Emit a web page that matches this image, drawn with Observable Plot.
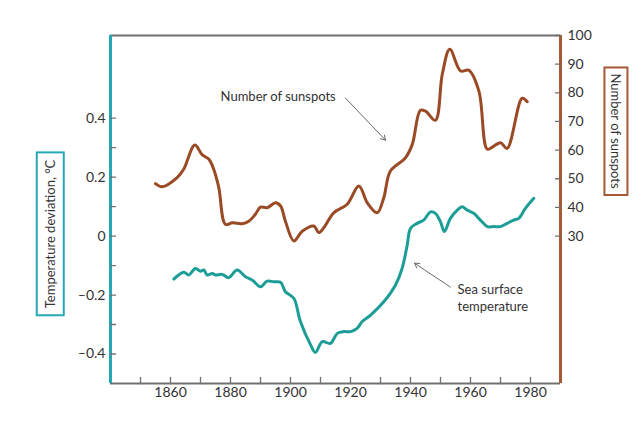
<!DOCTYPE html>
<html><head><meta charset="utf-8">
<script src="https://cdn.jsdelivr.net/npm/d3@7"></script>
<script src="https://cdn.jsdelivr.net/npm/@observablehq/plot@0.6"></script>
<style>
html,body{margin:0;padding:0;background:#fff;}
#chart svg{display:block;background:linear-gradient(#f4f7f6,#f4f7f6) no-repeat 7px 7px / 629px 407px;}
</style></head><body><div id="chart"></div>
<script>
// ---- data ----
const sunspotYears = [1855.0,1857.2,1862.2,1864.4,1868.1,1870.6,1872.8,1874.4,1876.1,1878.3,1880.6,1883.9,1886.1,1888.3,1890.0,1892.2,1895.0,1896.7,1898.3,1901.1,1903.9,1907.8,1909.4,1911.1,1914.4,1918.9,1922.8,1925.6,1928.9,1931.1,1933.3,1938.3,1940.6,1943.3,1945.0,1948.3,1950.6,1953.1,1956.7,1959.4,1962.8,1965.6,1967.8,1970.0,1972.2,1977.2,1978.9];
const sunspotValues = [48.3,47.2,50.4,53.3,61.8,58.3,56.8,53.3,46.9,34.1,34.6,34.3,35.2,37.6,40.1,39.9,41.6,40.5,35.2,28.3,31.7,33.5,31.2,32.9,38.1,41.1,47.5,41.6,38.1,43.4,52.7,57.3,62.0,73.9,73.6,70.4,86.5,95.2,87.6,87.9,80.6,60.3,61.4,62.6,60.6,78.1,76.9];
const tempYears = [1861.1,1864.4,1866.1,1868.3,1870.0,1871.1,1872.2,1873.9,1875.0,1877.2,1879.4,1882.2,1885.0,1887.2,1890.0,1892.2,1894.4,1896.7,1898.3,1901.1,1903.3,1906.7,1908.3,1910.6,1913.3,1915.6,1917.8,1920.0,1922.2,1923.9,1926.7,1931.1,1935.0,1937.2,1938.9,1940.0,1942.2,1944.4,1946.7,1948.3,1950.0,1951.3,1953.3,1955.6,1957.2,1958.9,1961.1,1963.3,1965.6,1967.8,1970.0,1972.2,1974.4,1976.1,1978.3,1981.1];
const tempValues = [-0.146,-0.123,-0.132,-0.110,-0.119,-0.115,-0.132,-0.127,-0.132,-0.130,-0.141,-0.115,-0.138,-0.149,-0.172,-0.153,-0.155,-0.157,-0.189,-0.211,-0.29,-0.369,-0.395,-0.358,-0.364,-0.330,-0.324,-0.324,-0.313,-0.290,-0.268,-0.223,-0.166,-0.110,-0.031,0.026,0.043,0.054,0.082,0.077,0.048,0.015,0.060,0.088,0.099,0.088,0.077,0.054,0.032,0.032,0.032,0.043,0.054,0.060,0.094,0.128];

const yearTickLabels = [1860,1880,1900,1920,1940,1960,1980];
const yearTicks = [1850,1860,1870,1880,1890,1900,1910,1920,1930,1940,1950,1960,1970,1980];
const tempTickLabels = [-0.4,-0.2,0,0.2,0.4];
const tempTicks = [-0.4,-0.3,-0.2,-0.1,0,0.1,0.2,0.3,0.4];
const sunspotTicks = [30,40,50,60,70,80,90,100];

const titles = [
  {year: 1820.2, t: 0.007, text: "Temperature deviation, °C", rotate: -90},
  {year: 2008.2, t: 0.356, text: "Number of sunspots", rotate: 90}
];
const notes = [
  {year: 1876.7, t: 0.476, text: "Number of sunspots"},
  {year: 1955.7, t: -0.208, text: "Sea surface\ntemperature"}
];
const pointers = [
  {x1: 1918.3, y1: 0.468, x2: 1931.7, y2: 0.325},
  {x1: 1953.3, y1: -0.173, x2: 1941.3, y2: -0.092}
];

// ---- scales ----
const xDomain = [1840, 1990];
const yDomain = [-0.5, 0.68];
// right axis (sunspots) mapped onto left-axis units: 30 -> 0, 100 -> 0.68
const toT = v => (v - 30) * 0.68 / 70;
const fromT = t => t * 70 / 0.68 + 30;

const sunspots = sunspotYears.map((y, i) => ({year: y, t: toT(sunspotValues[i])}));
const temps = tempYears.map((y, i) => ({year: y, t: tempValues[i]}));

const CYAN = "#25a8b6", TEAL = "#1c9e96", BROWN = "#9a4a24", BROWN_AX = "#a65a33", GREY = "#707070", INK = "#333";
const tickShape = {draw(context, l) { context.moveTo(0, 0); context.lineTo(0, -l); }};
const fmtT = d => d === 0 ? "0" : (d < 0 ? "–" : "") + Math.abs(d).toFixed(1);

const plot = Plot.plot({
  width: 643, height: 421,
  marginLeft: 110, marginRight: 83, marginTop: 35, marginBottom: 38,
  style: {fontFamily: "Lato, sans-serif", background: "transparent", overflow: "visible"},
  x: {domain: xDomain},
  y: {domain: yDomain},
  marks: [
    // frame
    Plot.ruleY([yDomain[1]], {stroke: GREY, strokeWidth: 2}),
    Plot.ruleY([yDomain[0]], {stroke: GREY, strokeWidth: 2}),
    Plot.ruleX([xDomain[0]], {stroke: CYAN, strokeWidth: 3}),
    Plot.ruleX([xDomain[1]], {stroke: BROWN_AX, strokeWidth: 3}),
    // ticks
    Plot.vector(yearTicks, {x: d => d, frameAnchor: "bottom", rotate: 0, length: 6, anchor: "start", shape: tickShape, stroke: GREY, strokeWidth: 1.3}),
    Plot.vector(tempTicks, {y: d => d, frameAnchor: "left", rotate: 90, length: 5, anchor: "start", shape: tickShape, stroke: GREY, strokeWidth: 1.3}),
    Plot.vector(sunspotTicks.map(toT), {y: d => d, frameAnchor: "right", rotate: -90, length: 5, anchor: "start", shape: tickShape, stroke: GREY, strokeWidth: 1.3}),
    // tick labels
    Plot.axisX({ticks: yearTickLabels, tickSize: 0, tickPadding: 4, tickFormat: d => String(d), label: null, fontSize: 14, fill: INK}),
    Plot.axisY({ticks: tempTickLabels, anchor: "left", tickSize: 0, tickPadding: 5, tickFormat: fmtT, label: null, fontSize: 14, fill: INK}),
    Plot.axisY({ticks: sunspotTicks.map(toT), anchor: "right", tickSize: 0, tickPadding: 7, tickFormat: t => String(Math.round(fromT(t))), label: null, fontSize: 14, fill: INK}),
    // axis titles
    Plot.text(titles, {x: "year", y: "t", text: "text", rotate: "rotate", fontSize: 13, fill: INK}),
    // series
    Plot.line(sunspots, {x: "year", y: "t", stroke: BROWN, strokeWidth: 3, curve: "catmull-rom"}),
    Plot.line(temps, {x: "year", y: "t", stroke: TEAL, strokeWidth: 3, curve: "catmull-rom"}),
    // annotations
    Plot.text(notes, {x: "year", y: "t", text: "text", textAnchor: "start", lineHeight: 1.3, fontSize: 13, fill: INK}),
    Plot.arrow(pointers, {x1: "x1", y1: "y1", x2: "x2", y2: "y2", stroke: "#6a6a6a", strokeWidth: 1, headLength: 8})
  ]
});

document.getElementById("chart").append(plot);

// boxes around the axis titles
const svgRect = plot.getBoundingClientRect();
const texts = [...plot.querySelectorAll("text")];
const boxStyle = [[CYAN, 27, 7], [BROWN_AX, 23, 6]];
titles.forEach((d, i) => {
  const [color, w, pad] = boxStyle[i];
  const node = texts.find(t => t.textContent === d.text && t.getAttribute("transform") && /rotate/.test(t.getAttribute("transform")));
  if (!node) return;
  const r = node.getBoundingClientRect();
  const cx = (r.left + r.right) / 2 - svgRect.left;
  const top = r.top - svgRect.top - pad;
  d3.select(plot).append("rect")
    .attr("x", cx - w / 2).attr("y", top)
    .attr("width", w).attr("height", r.height + 2 * pad)
    .attr("fill", "none").attr("stroke", color).attr("stroke-width", 2);
});
</script></body></html>
